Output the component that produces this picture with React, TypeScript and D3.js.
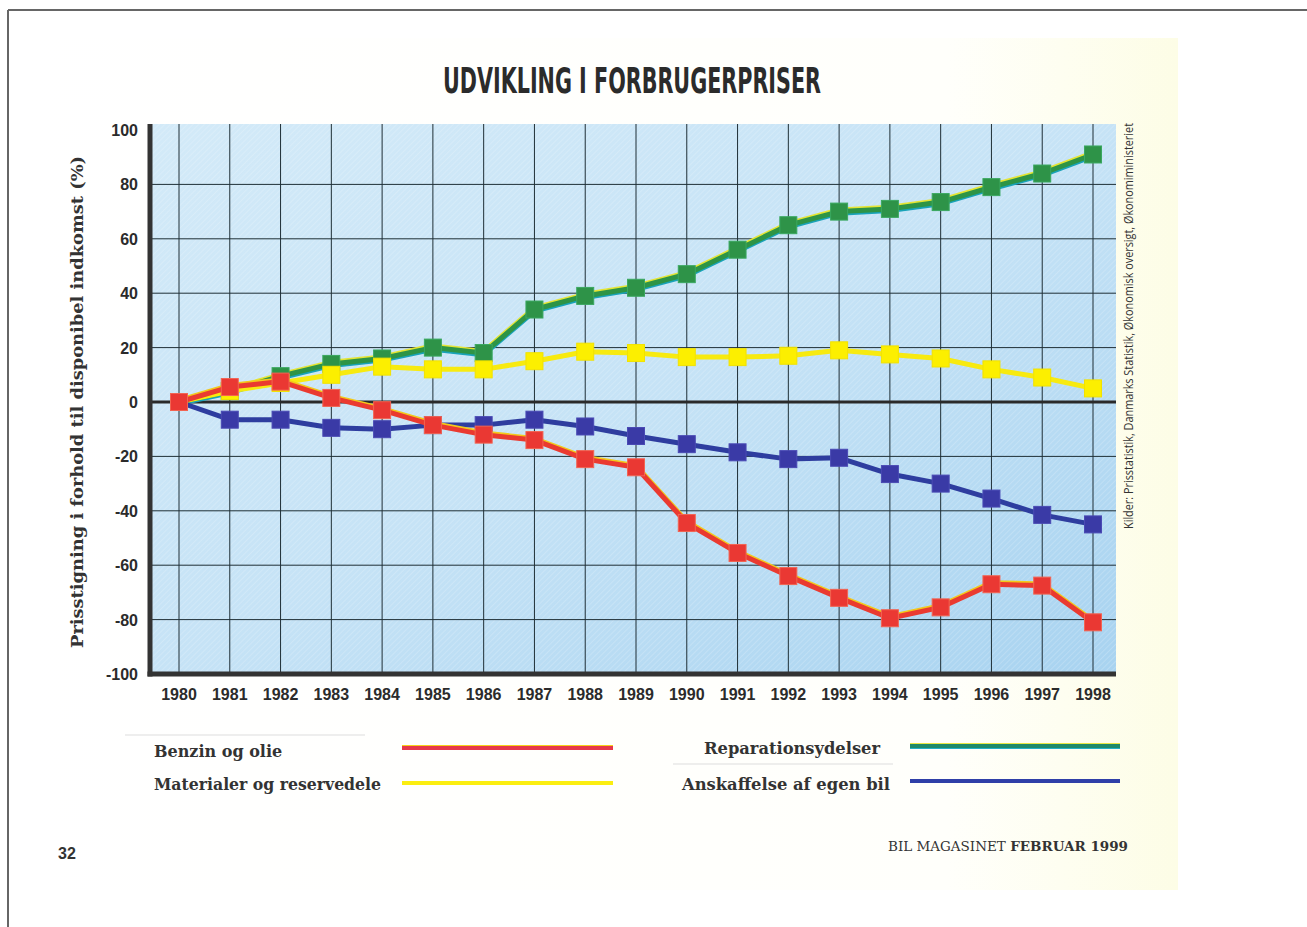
import { scaleLinear, line } from 'd3'

const years = [1980, 1981, 1982, 1983, 1984, 1985, 1986, 1987, 1988, 1989, 1990, 1991, 1992, 1993, 1994, 1995, 1996, 1997, 1998]
const benzin = [0, 5.5, 7.5, 1.5, -3, -8.5, -12, -14, -21, -24, -44.5, -55.5, -64, -72, -79.5, -75.5, -67, -67.5, -81]
const materialer = [0, 4, 7, 10, 13, 12, 12, 15, 18.5, 18, 16.5, 16.5, 17, 19, 17.5, 16, 12, 9, 5]
const reparation = [0, 4, 9.5, 14, 16, 20, 18, 34, 39, 42, 47, 56, 65, 70, 71, 73.5, 79, 84, 91]
const anskaffelse = [0, -6.5, -6.5, -9.5, -10, -8.5, -8.5, -6.5, -9, -12.5, -15.5, -18.5, -21, -20.5, -26.5, -30, -35.5, -41.5, -45]
const yTicks = [100, 80, 60, 40, 20, 0, -20, -40, -60, -80, -100]

const W = 1307
const H = 927
const plotL = 150
const plotR = 1116

const x = scaleLinear().domain([1980, 1998]).range([179, 1093])
const y = scaleLinear().domain([-100, 100]).range([674, 130])

const mk = (vals: number[]) => line<number>()
    .x((_, i) => x(years[i]))
    .y(d => y(d))(vals) || ''

const serif = '"DejaVu Serif", serif'
const sans = '"Liberation Sans", Arial, sans-serif'

function Series({ vals, main, under, over, marker, edge }: any) {
    const d = mk(vals)
    return (
        <g>
            {under && <path d={d} fill="none" stroke={under} strokeWidth={5} transform="translate(0,1.6)" strokeLinejoin="round" />}
            {over && <path d={d} fill="none" stroke={over} strokeWidth={5} transform="translate(0,-1.6)" strokeLinejoin="round" />}
            <path d={d} fill="none" stroke={main} strokeWidth={5} strokeLinejoin="round" />
            {vals.map((v: number, i: number) => (
                <rect key={i} x={x(years[i]) - 8.5} y={y(v) - 8.5} width={17} height={17}
                    fill={marker} stroke={edge} strokeWidth={1} />
            ))}
        </g>
    )
}

function LegendLine({ x1, x2, yy, main, under, over }: any) {
    return (
        <g>
            {under && <line x1={x1} x2={x2} y1={yy + 1.5} y2={yy + 1.5} stroke={under} strokeWidth={3} />}
            {over && <line x1={x1} x2={x2} y1={yy - 1.5} y2={yy - 1.5} stroke={over} strokeWidth={3} />}
            <line x1={x1} x2={x2} y1={yy} y2={yy} stroke={main} strokeWidth={4} />
        </g>
    )
}

export default function App() {
    return (
        <div style={{ position: 'absolute', left: 0, top: 0 }}>
            <svg width={W} height={H} viewBox={`0 0 ${W} ${H}`} style={{ display: 'block', background: '#fff' }}>
                <defs>
                    <linearGradient id="paper" x1="0" x2="1" y1="0" y2="0">
                        <stop offset="0" stopColor="#ffffff" />
                        <stop offset="0.8" stopColor="#fffffb" />
                        <stop offset="1" stopColor="#fdfde6" />
                    </linearGradient>
                    <linearGradient id="bg" x1="0" x2="1" y1="0" y2="1">
                        <stop offset="0" stopColor="#d3eaf8" />
                        <stop offset="0.5" stopColor="#c6e3f6" />
                        <stop offset="1" stopColor="#a8d3f0" />
                    </linearGradient>
                    <pattern id="hatch" width="4" height="4" patternUnits="userSpaceOnUse" patternTransform="rotate(45)">
                        <line x1="0" y1="0" x2="0" y2="4" stroke="#ffffff" strokeWidth="1" opacity="0.35" />
                    </pattern>
                </defs>

                {/* page */}
                <rect x={20} y={38} width={1158} height={852} fill="url(#paper)" />
                <line x1={8} x2={W} y1={10} y2={10} stroke="#666" strokeWidth={2} />
                <line x1={8} x2={8} y1={10} y2={H} stroke="#666" strokeWidth={2} />

                <text x={632} y={93} textAnchor="middle" fontFamily='"Liberation Sans Narrow", "DejaVu Sans Condensed", sans-serif'
                    fontWeight="bold" fontSize={35} fill="#2b2b2b" textLength={378} lengthAdjust="spacingAndGlyphs">
                    UDVIKLING I FORBRUGERPRISER
                </text>

                {/* plot background */}
                <rect x={plotL} y={y(100) - 6} width={plotR - plotL} height={y(-100) - y(100) + 6} fill="url(#bg)" />
                <rect x={plotL} y={y(100) - 6} width={plotR - plotL} height={y(-100) - y(100) + 6} fill="url(#hatch)" />

                {/* grid */}
                {yTicks.filter(t => t !== 100 && t !== -100 && t !== 0).map(t => (
                    <line key={t} x1={plotL} x2={plotR} y1={y(t)} y2={y(t)} stroke="#1f2f36" strokeWidth={1} />
                ))}
                {years.map(yr => (
                    <line key={yr} x1={x(yr)} x2={x(yr)} y1={y(100) - 6} y2={y(-100)} stroke="#1f2f36" strokeWidth={1} />
                ))}
                <line x1={plotL} x2={plotR} y1={y(0)} y2={y(0)} stroke="#2a2a2a" strokeWidth={3} />
                <line x1={plotL} x2={plotL} y1={y(100) - 6} y2={y(-100) + 2.5} stroke="#333" strokeWidth={5} />
                <line x1={plotL - 2.5} x2={plotR} y1={y(-100)} y2={y(-100)} stroke="#333" strokeWidth={5} />

                {/* y ticks */}
                {yTicks.map(t => (
                    <text key={t} x={138} y={y(t) + 6} textAnchor="end" fontFamily={sans} fontWeight="bold"
                        fontSize={16} fill="#2b2b2b">{t}</text>
                ))}
                {/* x ticks */}
                {years.map(yr => (
                    <text key={yr} x={x(yr)} y={700} textAnchor="middle" fontFamily={sans} fontWeight="bold"
                        fontSize={16} fill="#2b2b2b">{yr}</text>
                ))}

                <text transform={`translate(83,${y(0)}) rotate(-90)`} textAnchor="middle" fontFamily={serif}
                    fontWeight="bold" fontSize={16.5} fill="#333" textLength={492} lengthAdjust="spacingAndGlyphs">
                    Prisstigning i forhold til disponibel indkomst (%)
                </text>

                <text transform="translate(1133,326) rotate(-90)" textAnchor="middle" fontFamily='"Open Sans", sans-serif'
                    fontSize={13} fill="#333" textLength={406} lengthAdjust="spacingAndGlyphs">
                    Kilder: Prisstatistik, Danmarks Statistik, Økonomisk oversigt, Økonomiministeriet
                </text>

                {/* series */}
                <Series vals={reparation} main="#2e9446" under="#19a3b8" over="#e5e534" marker="#2e9348" edge="#3aa860" />
                <Series vals={materialer} main="#f7ea10" marker="#fcef00" edge="#f2e200" />
                <Series vals={anskaffelse} main="#2e3d9f" marker="#3a3aa6" edge="#4a4ab4" />
                <Series vals={benzin} main="#ea3a30" over="#f3c81a" marker="#ea3833" edge="#f26452" />

                {/* legend */}
                <line x1={125} x2={365} y1={735} y2={735} stroke="#ddd" strokeWidth={1} />
                <line x1={673} x2={893} y1={764} y2={764} stroke="#ddd" strokeWidth={1} />
                <text x={154} y={757} fontFamily={serif} fontWeight="bold" fontSize={16} fill="#333">Benzin og olie</text>
                <text x={154} y={790} fontFamily={serif} fontWeight="bold" fontSize={16} fill="#333"
                    textLength={227} lengthAdjust="spacingAndGlyphs">Materialer og reservedele</text>
                <text x={880} y={754} textAnchor="end" fontFamily={serif} fontWeight="bold" fontSize={16} fill="#333"
                    textLength={176} lengthAdjust="spacingAndGlyphs">Reparationsydelser</text>
                <text x={890} y={790} textAnchor="end" fontFamily={serif} fontWeight="bold" fontSize={16} fill="#333"
                    textLength={208} lengthAdjust="spacingAndGlyphs">Anskaffelse af egen bil</text>
                <LegendLine x1={402} x2={613} yy={748} main="#e6384a" over="#f5d21a" />
                <LegendLine x1={402} x2={613} yy={783} main="#fbee10" />
                <LegendLine x1={910} x2={1120} yy={746} main="#1f8a6a" over="#e8e844" under="#22b0c8" />
                <LegendLine x1={910} x2={1120} yy={781} main="#2f3fa8" />

                {/* footer */}
                <text x={58} y={859} fontFamily={sans} fontWeight="bold" fontSize={16} fill="#333">32</text>
                <text x={1128} y={851} textAnchor="end" fontFamily={serif} fontSize={13.5} fill="#333">
                    <tspan fontWeight="normal">BIL MAGASINET </tspan>
                    <tspan fontWeight="bold">FEBRUAR 1999</tspan>
                </text>
            </svg>
        </div>
    )
}
